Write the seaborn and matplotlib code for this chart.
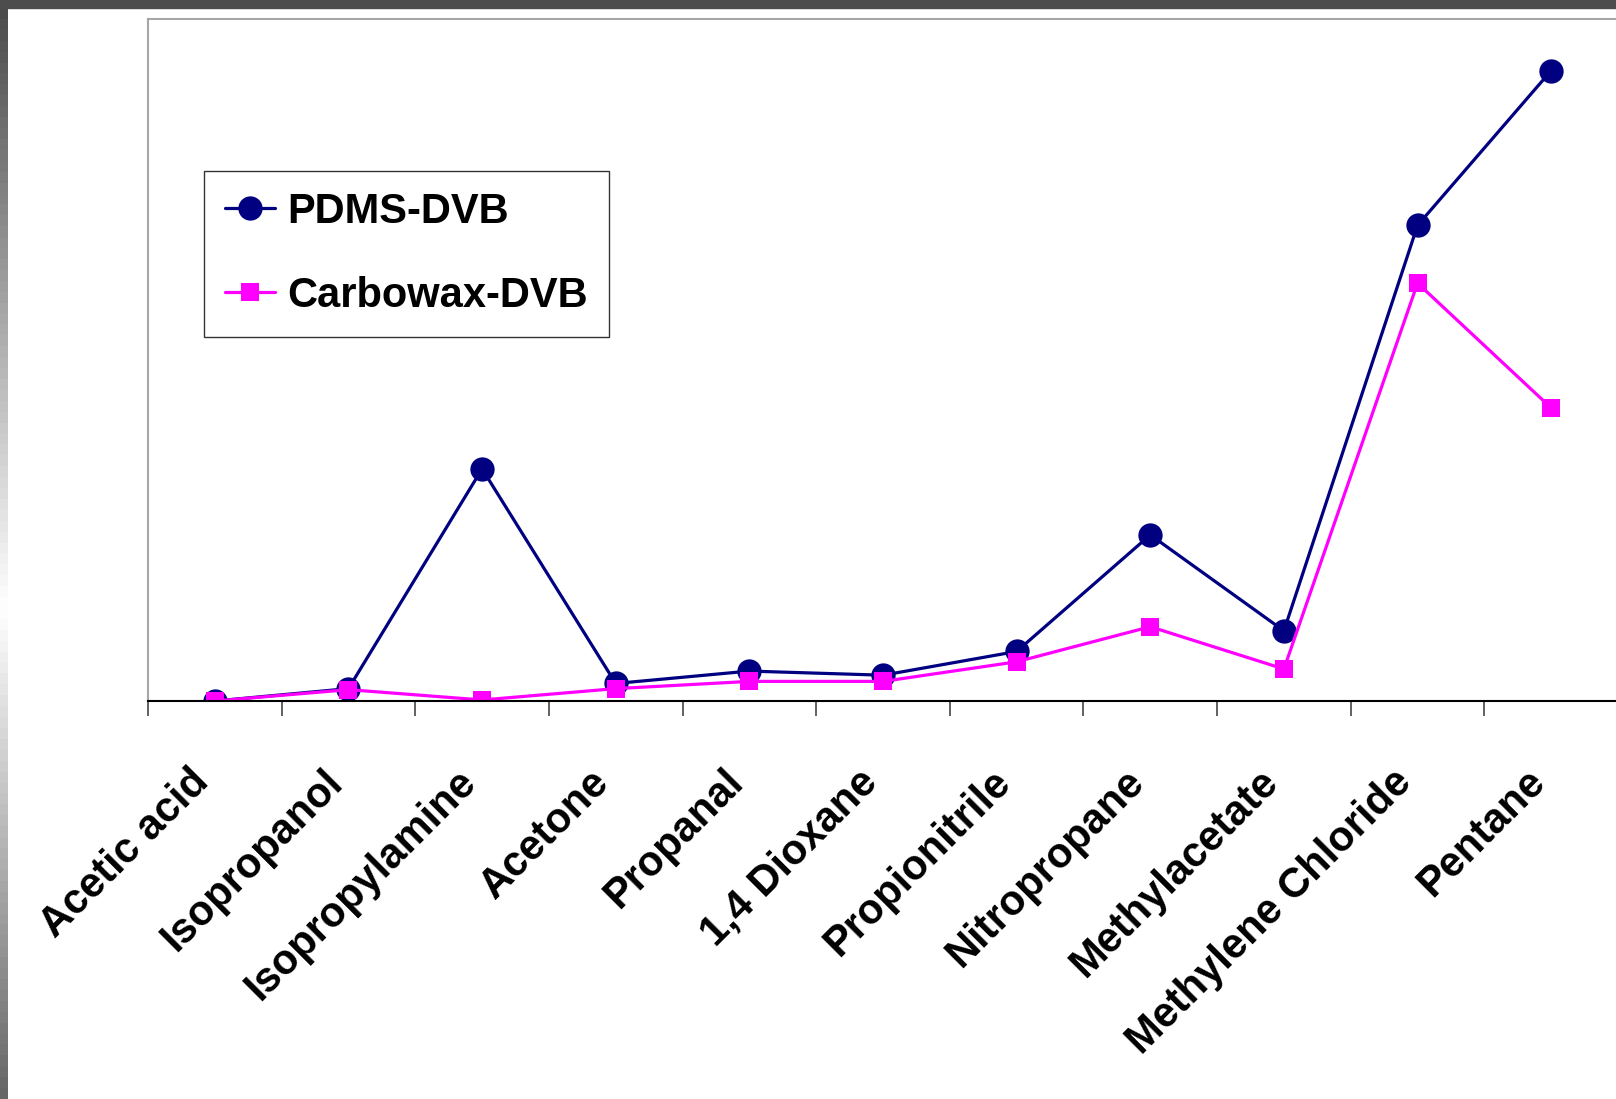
import numpy as np
import pandas as pd
import matplotlib
matplotlib.use("Agg")
import matplotlib.pyplot as plt
import matplotlib.transforms as mtransforms
import seaborn as sns
from matplotlib.patches import Rectangle

# Valeurs (axe Y sans graduation, unités arbitraires)
compounds = ["Acetic acid", "Isopropanol", "Isopropylamine", "Acetone", "Propanal",
             "1,4 Dioxane", "Propionitrile", "Nitropropane", "Methylacetate",
             "Methylene Chloride", "Pentane"]
pdms_dvb = [0, 12, 225, 17, 29, 25, 48, 161, 68, 461, 611]
carbowax_dvb = [0, 11, 1, 12, 19, 19, 38, 72, 31, 405, 284]

sns.set_style("white")
plt.rcParams['font.family'] = ['Liberation Sans', 'DejaVu Sans']
plt.rcParams['font.weight'] = 'bold'
plt.rcParams['text.color'] = 'black'
plt.rcParams['xtick.color'] = 'black'

df = pd.DataFrame({
    "pos": np.arange(len(compounds)),
    "compound": compounds,
    "PDMS-DVB": pdms_dvb,
    "Carbowax-DVB": carbowax_dvb,
})

fig = plt.figure(figsize=(16.16, 10.99), dpi=100)
W, H = 1616, 1099
ax = fig.add_axes([148 / W, 1 - 701 / H, 1470 / W, 682 / H])

sns.lineplot(data=df, x="pos", y="PDMS-DVB", ax=ax, color="#000080", marker="o",
             markersize=17.5, markeredgewidth=0, linewidth=2.3, sort=False,
             label="PDMS-DVB")
sns.lineplot(data=df, x="pos", y="Carbowax-DVB", ax=ax, color="#ff00ff", marker="s",
             markersize=12.5, markeredgewidth=0, linewidth=2.3, sort=False,
             label="Carbowax-DVB")

ax.set_xlim(-0.5, len(compounds) - 0.5)
ax.set_ylim(0, 661)
ax.set_xlabel("")
ax.set_ylabel("")
ax.set_yticks([])

# labels au centre des categories, graduations aux frontieres
ax.set_xticks(df["pos"])
ax.set_xticklabels(compounds, rotation=45, ha="right", va="center",
                   rotation_mode="anchor", fontsize=30, fontweight="bold",
                   color="black")
ax.tick_params(axis="x", which="major", bottom=True, length=0, pad=54)
shift = mtransforms.ScaledTranslation(-12 / 100, 0, fig.dpi_scale_trans)
for lbl in ax.get_xticklabels():
    lbl.set_transform(lbl.get_transform() + shift)
ax.set_xticks(np.arange(len(compounds) + 1) - 0.5, minor=True)
ax.tick_params(axis="x", which="minor", bottom=True, length=11, width=1.3,
               color="#555555", direction="out")

for side in ["left", "top", "right"]:
    ax.spines[side].set_color("#a6a6a6")
    ax.spines[side].set_linewidth(1.5)
ax.spines["bottom"].set_color("black")
ax.spines["bottom"].set_linewidth(1.5)

leg = ax.legend(loc="upper left", bbox_to_anchor=(0.038, 0.777), borderaxespad=0,
                fontsize=30, frameon=True, fancybox=False, handlelength=1.2,
                handletextpad=0.3, labelspacing=1.05, borderpad=0.5)
leg.get_frame().set_edgecolor("black")
leg.get_frame().set_linewidth(1.0)
for t in leg.get_texts():
    t.set_fontweight("bold")
    t.set_color("black")

# bordures sombres de la capture d'ecran
fig.patches.append(Rectangle((0, 1 - 8 / H), 1, 8 / H, transform=fig.transFigure,
                             color="#4d4d4d", zorder=10))
gax = fig.add_axes([0, 0, 8 / W, 1 - 8 / H])
grad = np.concatenate([np.linspace(0.30, 0.99, 55), np.linspace(0.99, 0.40, 45)])
gax.imshow(grad.reshape(-1, 1), cmap="gray", vmin=0, vmax=1, aspect="auto")
gax.axis("off")

fig.savefig("out.png", dpi=100)
